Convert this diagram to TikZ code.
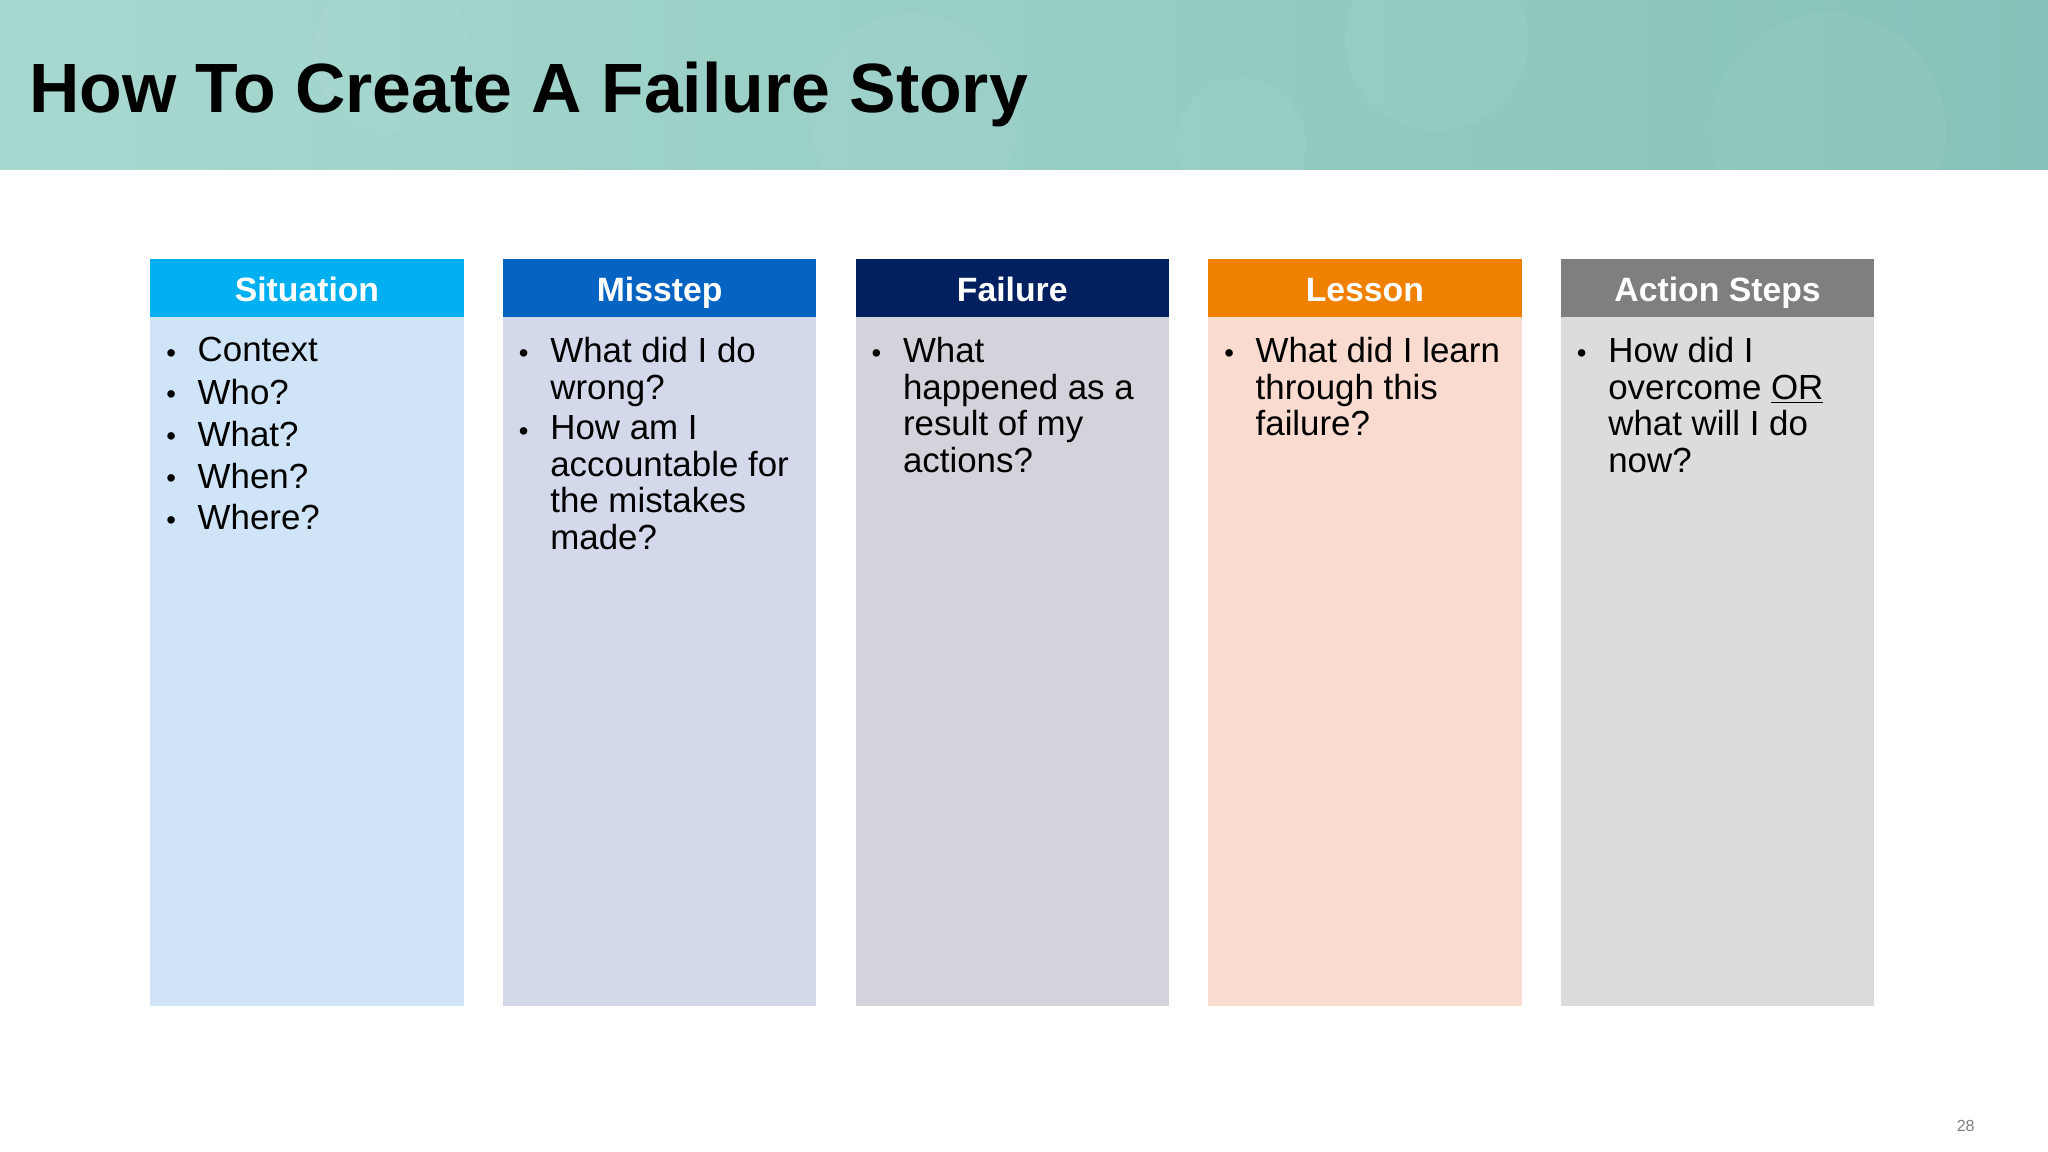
\documentclass[tikz,border=0pt]{standalone}
\usepackage{fontspec}
\setmainfont{Liberation Sans}
\begin{document}
\begin{tikzpicture}[x=0.02cm,y=-0.02cm,
  hdr/.style={font=\fontsize{14.7}{17}\selectfont\bfseries,text=white,anchor=base},
  itm/.style={anchor=north west,inner sep=0pt,align=left,font=\fontsize{15.2}{15.9}\selectfont},
  bul/.style={anchor=north west,inner sep=0pt,font=\fontsize{12}{15.9}\selectfont}]
\definecolor{c1}{HTML}{00B0F0}\definecolor{b1}{HTML}{D0E4F8}
\definecolor{c2}{HTML}{0563C1}\definecolor{b2}{HTML}{D3D8EA}
\definecolor{c3}{HTML}{002060}\definecolor{b3}{HTML}{D3D3DB}
\definecolor{c4}{HTML}{F08000}\definecolor{b4}{HTML}{FADBD0}
\definecolor{c5}{HTML}{7F7F7F}\definecolor{b5}{HTML}{DCDCDE}
\definecolor{tealA}{HTML}{A8D9D0}\definecolor{tealB}{HTML}{86C2B9}
\useasboundingbox (0,0) rectangle (1568,882);
\fill[white] (0,0) rectangle (1568,882);
\shade[left color=tealA,right color=tealB] (0,0) rectangle (1568,130);
\foreach \cx/\cy/\r in {300/40/60,700/90/80,1100/30/70,1400/100/90,950/110/50}
  \fill[white,opacity=0.04] (\cx,\cy) circle (\r);
\node[anchor=west,inner sep=0pt,font=\fontsize{30.4}{34}\selectfont\bfseries] (title) at (22,72) {How To Create A Failure Story};
\foreach \i/\x/\t in {1/115/Situation,2/385/Misstep,3/655/Failure,4/925/Lesson,5/1195/Action Steps}{
  \fill[b\i] (\x,243) rectangle ++(240,527);
  \fill[c\i] (\x,198) rectangle ++(240,45);
  \node[hdr] (h\i) at (\x+120,231) {\t};
}
\foreach \n/\y/\t in {a/258/Context,b/290/Who?,c/322/What?,d/354/When?,e/386/Where?}{
  \node[bul] (b1\n) at (127,\y+9) {•};
  \node[itm] (t1\n) at (151,\y) {\t};
}
\node[bul] (b2a) at (397,267) {•};
\node[itm] (t2a) at (421,258) {What did I do\\wrong?};
\node[bul] (b2b) at (397,327) {•};
\node[itm] (t2b) at (421,318) {How am I\\accountable for\\the mistakes\\made?};
\node[bul] (b3a) at (667,267) {•};
\node[itm] (t3a) at (691,258) {What\\happened as a\\result of my\\actions?};
\node[bul] (b4a) at (937,267) {•};
\node[itm] (t4a) at (961,258) {What did I learn\\through this\\failure?};
\node[bul] (b5a) at (1207,267) {•};
\node[itm] (t5a) at (1231,258) {How did I\\overcome \underline{OR}\\what will I do\\now?};
\node[font=\fontsize{7}{8}\selectfont,text=gray] (pg) at (1505,862) {28};
\end{tikzpicture}
\end{document}
